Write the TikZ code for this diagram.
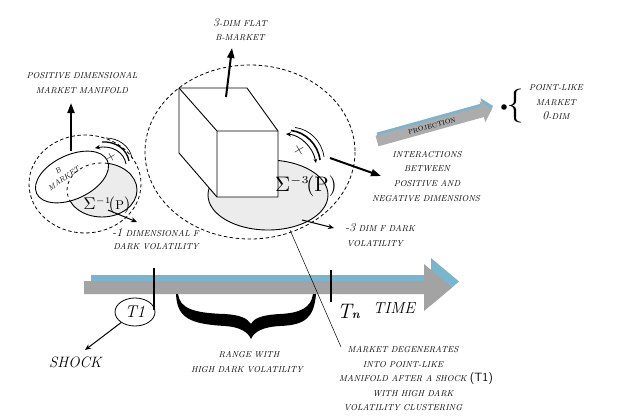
\documentclass[tikz,border=0pt]{standalone}
\usetikzlibrary{arrows.meta,shapes.geometric}
\definecolor{tgray}{RGB}{163,163,163}
\definecolor{tblue}{RGB}{122,181,206}
\definecolor{efill}{RGB}{236,236,236}
\begin{document}
\begin{tikzpicture}[x=1pt,y=-1pt,
  lbl/.style={font=\fontsize{8.6}{10}\selectfont\itshape, inner sep=0pt, anchor=base},
  dashell/.style={dash pattern=on 3.5pt off 2.5pt, line width=0.8pt},
  grayell/.style={fill=efill, draw=black, line width=0.9pt},
  bigarrow/.style={line width=2pt, -{Triangle[length=10pt,width=7pt]}},
  thinarrow/.style={line width=1pt, -{Stealth[length=6pt,width=5pt]}},
  tickline/.style={line width=2.2pt},
  rotarc/.style={line width=0.9pt},
]
\useasboundingbox (0,0) rectangle (621,418);
\fill[white] (0,0) rectangle (621,418);

% ---------- dashed ellipses ----------
\draw[dashell] (85,184) ellipse [x radius=56, y radius=49];
\draw[dashell] (250,152) ellipse [x radius=105, y radius=87];

% ---------- small manifold ----------
\draw[grayell] (102,190) ellipse [x radius=35, y radius=27];
\draw[fill=white, line width=0.9pt, rotate around={25:(72,177)}] (72,177) ellipse [x radius=39, y radius=22];
\begin{scope}
  \clip[rotate around={25:(72,177)}] (72,177) ellipse [x radius=39, y radius=22];
  \draw[dash pattern=on 3pt off 3.5pt, line width=0.8pt] (102,190) ellipse [x radius=35, y radius=27];
\end{scope}
\node[rotate=35, font=\fontsize{7.5}{10}\selectfont\itshape, align=center, inner sep=0pt] (bm) at (61,174.5) {B\\MARKET};
\node[inner sep=0pt] (sig1) at (107,205) {\scalebox{1.7}{$\Sigma^{\scriptscriptstyle -1}\!(\scalebox{0.75}{$\mathrm{P}$})$}};

% rotation arcs (small)
\draw[rotarc, -{Stealth[length=5pt,width=4.5pt]}] (126,164) .. controls (124,152) and (112,145) .. (95,148);
\draw[line width=1.3pt] (129,161) .. controls (127,149) and (115,141) .. (102,142);
\draw[line width=0.7pt] (132,158) .. controls (130,146) and (118,138) .. (106,138);
\node[rotate=30, font=\fontsize{13}{13}\selectfont, inner sep=0pt] (plus1) at (111,157) {+};

% arrows of small manifold
\coordinate (bmtop) at (71,151);
\coordinate (posend) at (71,103);
\draw[bigarrow] (bmtop) -- (posend);
\node[lbl] (pos1) at (82,78) {POSITIVE DIMENSIONAL};
\node[lbl] (pos2) at (82,93) {MARKET MANIFOLD};

\coordinate (s1a) at (108,210);
\coordinate (s1b) at (137,222);
\draw[thinarrow] (s1a) -- (s1b);
\node[lbl, anchor=base west] (neg1a) at (112,236) {{\fontsize{12}{12}\selectfont -1} DIMENSIONAL F};
\node[lbl] (neg1b) at (156,249.5) {DARK VOLATILITY};

% ---------- cube manifold ----------
\draw[grayell] (268,195) ellipse [x radius=60, y radius=35];
\draw[fill=white, line width=0.9pt, line join=round] (179,88) -- (247,88) -- (278,131) -- (278,197) -- (217,197) -- (179,153) -- cycle;
\draw[line width=0.9pt, line join=round] (179,88) -- (217,131) -- (278,131) (217,131) -- (217,197);
\node[inner sep=0pt] (sig3) at (306,186) {\scalebox{2.1}{$\Sigma^{\scriptscriptstyle -3}\!(\mathrm{P})$}};

% rotation arcs (big)
\draw[rotarc, {Stealth[length=5pt,width=4.5pt]}-{Stealth[length=4pt,width=3.5pt]}] (286,134) .. controls (300,135) and (313,147) .. (316,163);
\draw[line width=1.6pt] (291,130.5) .. controls (305,132) and (318,144) .. (320,160);
\draw[line width=0.7pt] (295,127.5) .. controls (309,129) and (322,141) .. (324,157);
\node[rotate=30, font=\fontsize{16}{16}\selectfont, inner sep=0pt] (plus3) at (299,150) {+};

\coordinate (cubetop) at (226,97);
\coordinate (flatend) at (232,48);
\draw[bigarrow] (cubetop) -- (flatend);
\node[lbl] (flat1) at (240,26.5) {{\fontsize{12}{12}\selectfont 3}-DIM FLAT};
\node[lbl] (flat2) at (240,40.5) {B-MARKET};

\coordinate (intA) at (330,158);
\coordinate (intB) at (381,176);
\draw[bigarrow] (intA) -- (intB);
\node[lbl] (int1) at (427,157) {INTERACTIONS};
\node[lbl] (int2) at (427,171) {BETWEEN};
\node[lbl] (int3) at (427,186) {POSITIVE AND};
\node[lbl] (int4) at (426,201) {NEGATIVE DIMENSIONS};

\coordinate (s3a) at (302,220);
\coordinate (s3b) at (334,228);
\draw[thinarrow] (s3a) -- (s3b);
\node[lbl] (neg3a) at (380,231) {{\fontsize{12}{12}\selectfont -3} DIM F DARK};
\node[lbl] (neg3b) at (375,246) {VOLATILITY};

% ---------- projection ----------
\fill[tblue] (379.5,143.3) -- (484.9,114.0) -- (486.3,119.3) -- (493,106) -- (480.5,98.1) -- (481.9,103.4) -- (376.5,132.7) -- cycle;
\fill[tgray!90] (378.5,146.3) -- (483.9,117.0) -- (485.3,122.3) -- (492,109) -- (479.5,101.1) -- (480.9,106.4) -- (375.5,135.7) -- cycle;
\node[rotate=15.5, font=\fontsize{6.5}{7}\selectfont, inner sep=0pt] (proj) at (432,126) {PROJECTION};

\fill (504,107) circle [radius=2.8];
\node[inner sep=0pt] (brace) at (515,106) {\fontsize{34}{34}\selectfont\{};
\node[lbl] (pt1) at (556,90) {POINT-LIKE};
\node[lbl] (pt2) at (556,105) {MARKET};
\node[lbl] (pt3) at (556,119.5) {{\fontsize{12}{12}\selectfont 0}-DIM};

% ---------- time arrow ----------
\fill[tblue] (91,275) -- (431,275) -- (431,258) -- (459,281.5) -- (431,305) -- (431,288) -- (91,288) -- cycle;
\fill[tgray] (84,281) -- (424,281) -- (424,264) -- (452,287.5) -- (424,311) -- (424,294) -- (84,294) -- cycle;
\coordinate (t1top) at (154,268);
\coordinate (t1bot) at (154,310);
\draw[tickline] (t1top) -- (t1bot);
\coordinate (tntop) at (331,270);
\coordinate (tnbot) at (331,302);
\draw[tickline] (tntop) -- (tnbot);

\node[draw, ellipse, line width=0.8pt, minimum width=40pt, minimum height=28pt, inner sep=0pt, font=\fontsize{17}{17}\selectfont\itshape] (T1) at (135,312) {T1};
\node[inner sep=0pt, anchor=base west] (Tn) at (337,318) {{\fontsize{21}{21}\selectfont\itshape T}{\fontsize{12}{12}\selectfont\bfseries\itshape n}};
\node[inner sep=0pt, anchor=base west, font=\fontsize{16}{16}\selectfont\itshape] (time) at (373,313) {TIME};

\coordinate (shockend) at (85,350);
\draw[thinarrow] (T1) -- (shockend);
\node[inner sep=0pt, anchor=base west, font=\fontsize{15}{15}\selectfont\itshape] (shock) at (49,367) {SHOCK};

% brace
\fill (176,294) .. controls (177,318) and (190,324) .. (225,326) .. controls (240,327) and (248,332) .. (251,339)
  .. controls (254,332) and (262,327) .. (280,326) .. controls (305,325) and (314,318) .. (316,294)
  -- (313,294) .. controls (311,308) and (300,313) .. (280,314) .. controls (262,315) and (254,318) .. (251,324)
  .. controls (247,318) and (240,315) .. (225,314) .. controls (192,313) and (180,308) .. (178,294) -- cycle;
\node[lbl] (range1) at (249,357) {RANGE WITH};
\node[lbl] (range2) at (247,372) {HIGH DARK VOLATILITY};

% degenerate text
\coordinate (ellbot) at (290,230);
\coordinate (degtop) at (341,347);
\draw[line width=0.5pt] (ellbot) -- (degtop);
\node[lbl] (deg1) at (403,352) {MARKET DEGENERATES};
\node[lbl] (deg2) at (403,367) {INTO POINT-LIKE};
\node[lbl, anchor=base west] (deg3) at (339,381) {MANIFOLD AFTER A SHOCK {\upshape\sffamily\fontsize{12}{12}\selectfont (T1)}};
\node[lbl] (deg4) at (413,396) {WITH HIGH DARK};
\node[lbl] (deg5) at (403,410) {VOLATILITY CLUSTERING};
\end{tikzpicture}
\end{document}
